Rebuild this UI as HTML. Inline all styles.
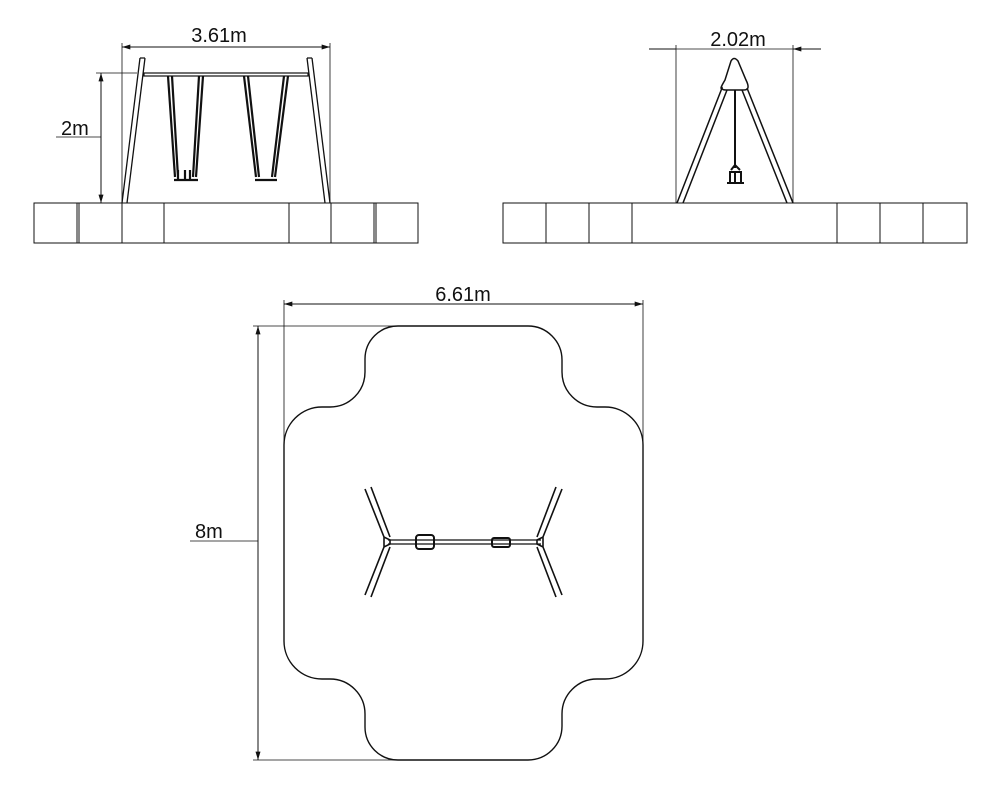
<!DOCTYPE html>
<html><head><meta charset="utf-8"><style>
body{margin:0;background:#fff;}
svg{display:block;}
text{font-family:"Liberation Sans",sans-serif;font-size:20px;fill:#111;}
</style></head><body>
<svg width="1000" height="789" viewBox="0 0 1000 789" xmlns="http://www.w3.org/2000/svg">
<defs>
<marker id="a" viewBox="0 0 10 6" refX="10" refY="3" markerWidth="12" markerHeight="5" orient="auto-start-reverse" markerUnits="userSpaceOnUse"><path d="M0,0L10,3L0,6z" fill="#111"/></marker>
</defs>
<g fill="none" stroke="#111" stroke-width="1">
<rect x="34" y="203" width="384" height="40"/>
<path d="M77 203V243M79 203V243M122 203V243M164 203V243M289 203V243M331 203V243M374 203V243M376 203V243"/>
<path d="M122 203L140 58M127 203L145 58M140 58L145 58" stroke-width="1.3"/>
<path d="M330 203L312 58M325 203L307 58M312 58L307 58" stroke-width="1.3"/>
<rect x="144" y="73" width="164" height="3" stroke-width="1.2"/>
<path d="M168 76L175 177M172 76L178 177M203 76L196 177M199 76L193 177M174 180H198M178 170V180M185 170V180M190 170V180" stroke-width="2.2"/>
<path d="M244 76L256 177M248 76L259 177M288 76L275 177M284 76L272 177M255 180H277" stroke-width="2.2"/>
<path d="M122 43V203M330 43V203" stroke-width="0.8"/>
<path d="M122 47H330" marker-start="url(#a)" marker-end="url(#a)"/>
<path d="M96 73H137M56 137H101" stroke-width="0.8"/>
<path d="M101 73V203" marker-start="url(#a)" marker-end="url(#a)"/>
<rect x="503" y="203" width="464" height="40"/>
<path d="M546 203V243M589 203V243M632 203V243M837 203V243M880 203V243M923 203V243"/>
<path d="M676 45V203M793 45V203" stroke-width="0.8"/>
<path d="M649 49H676M821 49H793" marker-end="url(#a)"/>
<path d="M676 49H793" stroke-width="0.8"/>
<path d="M722 88L677 203M727 90L683 203M747 88L793 203M742 90L787 203" stroke-width="1.5"/>
<path d="M722 88Q719 90 725 80L731 61Q734 56 738 61L746 80Q751 90 744 90H726Q722 90 722 88Z" stroke-width="1.5"/>
<path d="M735 90V168" stroke-width="2"/>
<path d="M727 183H744M729 172H742M730 172V183M741 172V183M735 172V183M731 170L735 165L740 170" stroke-width="2"/>
<path d="M398 326H528A34 34 0 0 1 562 360V372A35 35 0 0 0 597 407H605A38 38 0 0 1 643 445V641A38 38 0 0 1 605 679H597A35 35 0 0 0 562 714V726A34 34 0 0 1 528 760H398A33 33 0 0 1 365 727V714A35 35 0 0 0 330 679H322A38 38 0 0 1 284 641V445A38 38 0 0 1 322 407H330A35 35 0 0 0 365 372V359A33 33 0 0 1 398 326Z" stroke-width="1.4"/>
<path d="M284 300V445M643 300V445" stroke-width="0.8"/>
<path d="M284 304H643" marker-start="url(#a)" marker-end="url(#a)"/>
<path d="M253 326H398M253 760H398M190 541H258" stroke-width="0.8"/>
<path d="M258 326V760" marker-start="url(#a)" marker-end="url(#a)"/>
<path d="M388 540H541M388 544H541" stroke-width="1.2"/>
<path d="M365 489L384 537M371 487L390 537M365 595L384 547M371 597L390 547M384 537V547L390 544V540Z" stroke-width="1.6"/>
<path d="M562 489L543 537M556 487L537 537M562 595L543 547M556 597L537 547M543 537V547L537 544V540Z" stroke-width="1.6"/>
<rect x="416" y="535" width="18" height="14" rx="3" stroke-width="2"/>
<rect x="492" y="538" width="18" height="9" rx="2" stroke-width="2"/>
</g>
<text x="219" y="42" text-anchor="middle">3.61m</text>
<text x="61" y="135">2m</text>
<text x="738" y="46" text-anchor="middle">2.02m</text>
<text x="463" y="301" text-anchor="middle">6.61m</text>
<text x="195" y="538">8m</text>
</svg>
</body></html>
